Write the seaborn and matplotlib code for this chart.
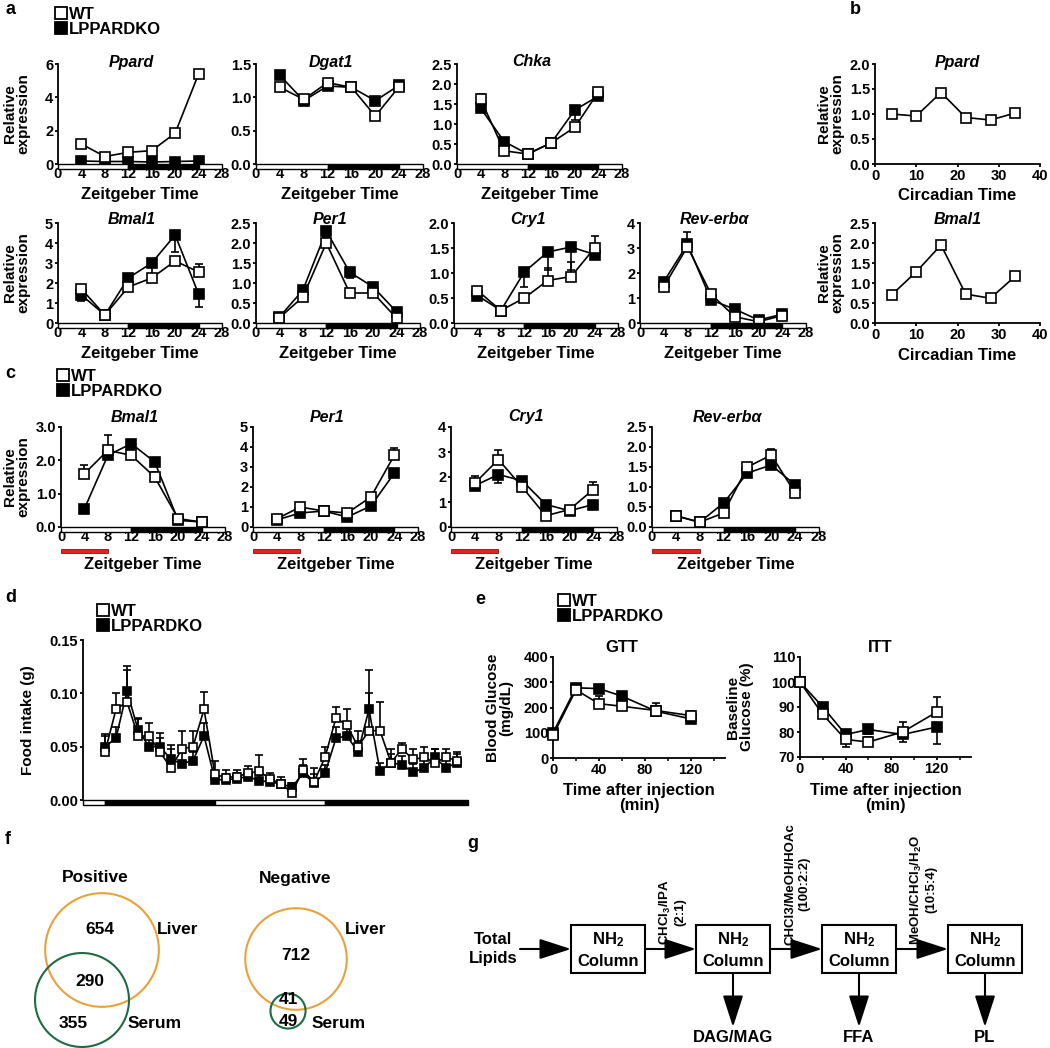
#!/usr/bin/env python3
"""Circadian expression (WT vs LPPARDKO), food intake, GTT/ITT, Venn diagrams and lipid SPE scheme."""

import matplotlib
matplotlib.use("Agg")
import matplotlib.pyplot as plt
import matplotlib.transforms as mtransforms
import numpy as np
import seaborn as sns
from matplotlib.lines import Line2D
from matplotlib.patches import Circle, Rectangle
from matplotlib.ticker import FormatStrFormatter, MultipleLocator

# ---------------- data ----------------
zt = [4, 8, 12, 16, 20, 24]
zt_light_edges = [0, 12, 24, 28]
zt_light_fill = ["white", "black", "white"]

# panel a (WT error bars point up, KO error bars point down)
ppard_wt = [1.2, 0.45, 0.7, 0.8, 1.85, 5.4]
ppard_wt_err = [0.1, 0.05, 0.05, 0.08, 0.1, 0.25]
ppard_ko = [0.18, 0.15, 0.15, 0.12, 0.15, 0.18]
ppard_ko_err = [0.05, 0.03, 0.03, 0.03, 0.03, 0.05]

dgat1_wt = [1.15, 0.97, 1.22, 1.15, 0.72, 1.16]
dgat1_wt_err = [0.05, 0.03, 0.06, 0.03, 0.03, 0.05]
dgat1_ko = [1.33, 0.95, 1.17, 1.15, 0.95, 1.18]
dgat1_ko_err = [0.05, 0.03, 0.04, 0.03, 0.03, 0.05]

chka_wt = [1.62, 0.33, 0.25, 0.53, 0.92, 1.8]
chka_wt_err = [0.12, 0.03, 0.03, 0.04, 0.1, 0.1]
chka_ko = [1.4, 0.56, 0.25, 0.53, 1.35, 1.7]
chka_ko_err = [0.1, 0.05, 0.03, 0.04, 0.25, 0.1]

bmal1_wt = [1.7, 0.4, 1.8, 2.25, 3.1, 2.55]
bmal1_wt_err = [0.1, 0.05, 0.1, 0.1, 0.15, 0.4]
bmal1_ko = [1.4, 0.4, 2.25, 3.0, 4.4, 1.45]
bmal1_ko_err = [0.3, 0.05, 0.1, 0.7, 0.85, 0.65]

per1_wt = [0.13, 0.65, 2.0, 0.75, 0.75, 0.12]
per1_wt_err = [0.02, 0.05, 0.15, 0.05, 0.05, 0.05]
per1_ko = [0.15, 0.82, 2.3, 1.27, 0.9, 0.28]
per1_ko_err = [0.02, 0.05, 0.05, 0.15, 0.05, 0.05]

cry1_wt = [0.65, 0.25, 0.5, 0.85, 0.93, 1.5]
cry1_wt_err = [0.05, 0.02, 0.05, 0.25, 0.3, 0.25]
cry1_ko = [0.55, 0.25, 1.02, 1.42, 1.52, 1.37]
cry1_ko_err = [0.05, 0.02, 0.3, 0.35, 0.45, 0.05]

reverb_wt = [1.45, 3.05, 1.15, 0.25, 0.05, 0.3]
reverb_wt_err = [0.1, 0.6, 0.15, 0.05, 0.03, 0.05]
reverb_ko = [1.65, 3.15, 0.92, 0.55, 0.12, 0.35]
reverb_ko_err = [0.15, 0.2, 0.1, 0.05, 0.03, 0.05]

# panel b (circadian time, WT only)
ct = [4, 10, 16, 22, 28, 34]
ppard_ct = [1.0, 0.96, 1.43, 0.93, 0.88, 1.02]
bmal1_ct = [0.7, 1.28, 1.95, 0.72, 0.62, 1.17]

# panel c (restricted feeding)
c_bmal1_wt = [1.6, 2.3, 2.15, 1.5, 0.25, 0.15]
c_bmal1_wt_err = [0.25, 0.45, 0.1, 0.15, 0.03, 0.03]
c_bmal1_ko = [0.55, 2.15, 2.5, 1.95, 0.2, 0.15]
c_bmal1_ko_err = [0.05, 0.1, 0.05, 0.1, 0.03, 0.03]

c_per1_wt = [0.4, 1.0, 0.8, 0.7, 1.5, 3.6]
c_per1_wt_err = [0.05, 0.1, 0.1, 0.1, 0.15, 0.35]
c_per1_ko = [0.35, 0.7, 0.8, 0.5, 1.05, 2.7]
c_per1_ko_err = [0.05, 0.1, 0.1, 0.1, 0.1, 0.2]

c_cry1_wt = [1.75, 2.7, 1.6, 0.45, 0.7, 1.5]
c_cry1_wt_err = [0.3, 0.4, 0.1, 0.1, 0.1, 0.3]
c_cry1_ko = [1.65, 2.1, 1.85, 0.9, 0.65, 0.9]
c_cry1_ko_err = [0.1, 0.35, 0.1, 0.1, 0.1, 0.1]

c_reverb_wt = [0.28, 0.12, 0.35, 1.5, 1.8, 0.85]
c_reverb_wt_err = [0.03, 0.03, 0.05, 0.05, 0.15, 0.1]
c_reverb_ko = [0.28, 0.12, 0.6, 1.35, 1.55, 1.05]
c_reverb_ko_err = [0.03, 0.03, 0.05, 0.05, 0.1, 0.1]
feeding_window = [0, 8]

# panel d (food intake per bin)
food_bins = list(range(2, 35))
food_light_edges = [0, 2, 12, 22, 35]
food_light_fill = ["white", "black", "white", "black"]
food_wt = [0.045, 0.085, 0.092, 0.060, 0.060, 0.045, 0.030, 0.048, 0.050, 0.085,
           0.024, 0.021, 0.022, 0.025, 0.027, 0.020, 0.015, 0.007, 0.028, 0.017,
           0.040, 0.077, 0.070, 0.050, 0.065, 0.065, 0.035, 0.048, 0.038, 0.040,
           0.035, 0.040, 0.037]
food_wt_err = [0.015, 0.015, 0.030, 0.017, 0.012, 0.018, 0.022, 0.017, 0.015, 0.016,
               0.013, 0.007, 0.006, 0.007, 0.015, 0.005, 0.007, 0.005, 0.010, 0.013,
               0.010, 0.010, 0.015, 0.015, 0.035, 0.027, 0.013, 0.005, 0.010, 0.010,
               0.013, 0.008, 0.008]
food_ko = [0.050, 0.058, 0.102, 0.066, 0.050, 0.050, 0.038, 0.034, 0.037, 0.060,
           0.019, 0.019, 0.020, 0.022, 0.018, 0.017, 0.015, 0.012, 0.025, 0.016,
           0.025, 0.058, 0.060, 0.045, 0.085, 0.027, 0.035, 0.033, 0.026, 0.030,
           0.040, 0.030, 0.035]
food_ko_err = [0.012, 0.010, 0.024, 0.010, 0.008, 0.008, 0.010, 0.010, 0.008, 0.012,
               0.005, 0.005, 0.005, 0.005, 0.005, 0.004, 0.004, 0.004, 0.008, 0.008,
               0.008, 0.010, 0.010, 0.010, 0.037, 0.008, 0.008, 0.008, 0.008, 0.010,
               0.008, 0.008, 0.008]

# panel e
tol_time = [0, 20, 40, 60, 90, 120]
gtt_wt = [90, 270, 215, 205, 188, 168]
gtt_wt_err = [8, 12, 30, 10, 28, 20]
gtt_ko = [100, 278, 275, 245, 185, 155]
gtt_ko_err = [8, 10, 10, 10, 15, 12]
itt_wt = [100, 87, 77, 76, 80, 88]
itt_wt_err = [0, 1.5, 3, 2, 4, 6]
itt_ko = [100, 90, 79, 81, 79, 82]
itt_ko_err = [0, 1.5, 5, 2, 3, 7]

# panel f (feature counts)
pos_liver_only, pos_both, pos_serum_only = 654, 290, 355
neg_liver_only, neg_both, neg_serum_only = 712, 41, 49

# panel g
spe_fractions = ["DAG/MAG", "FFA", "PL"]
spe_solvents = ["CHCl$_3$/IPA\n(2:1)", "CHCl3/MeOH/HOAc\n(100:2:2)",
                "MeOH/CHCl$_3$/H$_2$O\n(10:5:4)"]

# ---------------- layout (pixels, origin top-left) ----------------
W, H = 1050, 1048
LIVER_COLOR = "#E8A23A"
SERUM_COLOR = "#1E6B45"
VENN_K = 1.85
YLAB_SIZE = 11


def box_axes(fig, box):
    l, t, r, b = box
    return fig.add_axes([l / W, 1 - b / H, (r - l) / W, (b - t) / H])


def draw_group(ax, x, y, err, filled, err_down, ms=6.5):
    y = np.asarray(y, float)
    err = np.asarray(err, float)
    zero = np.zeros_like(err)
    yerr = [err, zero] if err_down else [zero, err]
    ax.errorbar(x, y, yerr=yerr, fmt="none", ecolor="black", elinewidth=1.2,
                capsize=3, capthick=1.2, zorder=2, clip_on=False)
    sns.lineplot(x=x, y=y, ax=ax, color="black", linewidth=1.2, marker="s",
                 markersize=ms, markerfacecolor="black" if filled else "white",
                 markeredgecolor="black", markeredgewidth=1.2, errorbar=None, zorder=3)
    for ln in ax.lines:
        ln.set_clip_on(False)


def ld_bar(ax, box, edges, fills, px):
    h = px / (box[3] - box[1])
    tr = mtransforms.blended_transform_factory(ax.transData, ax.transAxes)
    for x0, x1, fc in zip(edges[:-1], edges[1:], fills):
        ax.add_patch(Rectangle((x0, -h), x1 - x0, h, transform=tr, facecolor=fc,
                               edgecolor="black", lw=1.0, clip_on=False, zorder=4))


def set_labels(ax, box, xlabel=None, xlabel_y=None, ylabel=None, ylabel_x=None):
    l, t, r, b = box
    if xlabel:
        ax.set_xlabel(xlabel, va="center", linespacing=1.0)
        ax.xaxis.set_label_coords(0.5, -(xlabel_y - b) / (b - t))
    else:
        ax.set_xlabel("")
    if ylabel:
        ax.set_ylabel(ylabel, va="center", ha="center", linespacing=0.95,
                      fontsize=YLAB_SIZE)
        ax.yaxis.set_label_coords(-(l - ylabel_x) / (r - l), 0.5)
    else:
        ax.set_ylabel("")


def panel_title(ax, box, text, cy, xa=0.45, italic=True, size=11.5):
    l, t, r, b = box
    ax.text(xa, (b - cy) / (b - t), text, transform=ax.transAxes, ha="center",
            va="center", fontsize=size, fontweight="bold",
            fontstyle="italic" if italic else "normal")


def zt_axes(ax, box, ymax, ystep, yfmt):
    ax.set_xlim(0, 28)
    ax.set_ylim(0, ymax)
    ax.set_xticks(range(0, 29, 4))
    ax.set_yticks(np.arange(0, ymax + ystep / 2, ystep))
    ax.yaxis.set_major_formatter(FormatStrFormatter(yfmt))
    sns.despine(ax=ax, bottom=True)
    ax.tick_params(axis="x", length=0, pad=2.5)
    ld_bar(ax, box, zt_light_edges, zt_light_fill, 4.5)


def geno_legend(fig, x, ytop):
    handles = [
        Line2D([], [], marker="s", ls="none", markersize=9, mfc="white", mec="black", mew=1.3),
        Line2D([], [], marker="s", ls="none", markersize=9, mfc="black", mec="black", mew=1.3),
    ]
    fig.legend(handles, ["WT", "LPPARDKO"], loc="upper left",
               bbox_to_anchor=(x / W, 1 - ytop / H), frameon=False, fontsize=12,
               handlelength=0.7, handletextpad=0.15, labelspacing=0.0,
               borderpad=0, borderaxespad=0)


def zt_panel(fig, box, name, wt, wt_err, ko, ko_err, ymax, ystep, yfmt,
             title_y, xlabel_y, ylabel):
    ax = box_axes(fig, box)
    draw_group(ax, zt, ko, ko_err, True, True)
    draw_group(ax, zt, wt, wt_err, False, False)
    zt_axes(ax, box, ymax, ystep, yfmt)
    panel_title(ax, box, name, title_y)
    set_labels(ax, box, "Zeitgeber Time", xlabel_y,
               "Relative\nexpression" if ylabel else None, 17)
    return ax


def main():
    sns.set_style("ticks")
    plt.rcParams.update({
        "font.family": ["Liberation Sans", "DejaVu Sans"],
        "font.weight": "bold",
        "font.size": 11,
        "axes.labelweight": "bold",
        "axes.labelsize": 12,
        "axes.edgecolor": "black",
        "axes.labelcolor": "black",
        "axes.linewidth": 1.3,
        "text.color": "black",
        "xtick.color": "black",
        "ytick.color": "black",
        "xtick.labelsize": 10.5,
        "ytick.labelsize": 10.5,
        "xtick.major.width": 1.3,
        "ytick.major.width": 1.3,
        "xtick.major.size": 2.5,
        "ytick.major.size": 2.5,
        "xtick.major.pad": 1.0,
        "ytick.major.pad": 1.0,
        "xtick.minor.width": 1.1,
        "xtick.minor.size": 2.2,
        "mathtext.fontset": "custom",
        "mathtext.rm": "Liberation Sans:bold",
        "mathtext.it": "Liberation Sans:italic:bold",
        "mathtext.bf": "Liberation Sans:bold",
        "mathtext.default": "rm",
    })

    fig = plt.figure(figsize=(W / 100, H / 100), dpi=100)

    # panel letters
    for letter, (x, y) in {"a": (5, 10), "b": (850, 10), "c": (5, 373), "d": (5, 598),
                           "e": (475, 600), "f": (5, 840), "g": (467, 843)}.items():
        fig.text(x / W, 1 - y / H, letter, fontsize=13, fontweight="bold",
                 ha="left", va="center")

    # ---- a ----
    geno_legend(fig, 55, 7)
    row1 = dict(title_y=62, xlabel_y=194)
    row2 = dict(title_y=219, xlabel_y=353)
    zt_panel(fig, (58, 64, 222, 164), "Ppard", ppard_wt, ppard_wt_err, ppard_ko,
             ppard_ko_err, 6, 2, "%d", ylabel=True, **row1)
    zt_panel(fig, (256, 64, 423, 164), "Dgat1", dgat1_wt, dgat1_wt_err, dgat1_ko,
             dgat1_ko_err, 1.5, 0.5, "%.1f", ylabel=False, **row1)
    zt_panel(fig, (457, 64, 622, 164), "Chka", chka_wt, chka_wt_err, chka_ko,
             chka_ko_err, 2.5, 0.5, "%.1f", ylabel=False, **row1)
    zt_panel(fig, (58, 223, 222, 323), "Bmal1", bmal1_wt, bmal1_wt_err, bmal1_ko,
             bmal1_ko_err, 5, 1, "%d", ylabel=True, **row2)
    zt_panel(fig, (256, 223, 420, 323), "Per1", per1_wt, per1_wt_err, per1_ko,
             per1_ko_err, 2.5, 0.5, "%.1f", ylabel=False, **row2)
    zt_panel(fig, (454, 223, 618, 323), "Cry1", cry1_wt, cry1_wt_err, cry1_ko,
             cry1_ko_err, 2.0, 0.5, "%.1f", ylabel=False, **row2)
    zt_panel(fig, (640, 223, 806, 323), "Rev-erbα", reverb_wt, reverb_wt_err, reverb_ko,
             reverb_ko_err, 4, 1, "%d", ylabel=False, **row2)

    # ---- b ----
    for box, vals, name, ymax, ty, xy in [
        ((875, 64, 1040, 164), ppard_ct, "Ppard", 2.0, 62, 196),
        ((875, 223, 1040, 323), bmal1_ct, "Bmal1", 2.5, 219, 355),
    ]:
        ax = box_axes(fig, box)
        sns.lineplot(x=ct, y=vals, ax=ax, color="black", linewidth=1.2, marker="s",
                     markersize=6.5, markerfacecolor="white", markeredgecolor="black",
                     markeredgewidth=1.2, errorbar=None)
        ax.set_xlim(0, 40)
        ax.set_ylim(0, ymax)
        ax.set_xticks(range(0, 41, 10))
        ax.set_yticks(np.arange(0, ymax + 0.25, 0.5))
        ax.yaxis.set_major_formatter(FormatStrFormatter("%.1f"))
        sns.despine(ax=ax)
        panel_title(ax, box, name, ty, xa=0.5)
        set_labels(ax, box, "Circadian Time", xy, "Relative\nexpression", 831)

    # ---- c ----
    geno_legend(fig, 57, 369)
    c_specs = [
        ((61, 427, 225, 527), "Bmal1", c_bmal1_wt, c_bmal1_wt_err, c_bmal1_ko, c_bmal1_ko_err, 3.0, 1.0, "%.1f"),
        ((253, 427, 418, 527), "Per1", c_per1_wt, c_per1_wt_err, c_per1_ko, c_per1_ko_err, 5, 1, "%d"),
        ((451, 427, 617, 527), "Cry1", c_cry1_wt, c_cry1_wt_err, c_cry1_ko, c_cry1_ko_err, 4, 1, "%d"),
        ((652, 427, 819, 527), "Rev-erbα", c_reverb_wt, c_reverb_wt_err, c_reverb_ko, c_reverb_ko_err, 2.5, 0.5, "%.1f"),
    ]
    for i, (box, name, wt, wte, ko, koe, ymax, ystep, yfmt) in enumerate(c_specs):
        ax = zt_panel(fig, box, name, wt, wte, ko, koe, ymax, ystep, yfmt,
                      title_y=417, xlabel_y=565, ylabel=(i == 0))
        tr = mtransforms.blended_transform_factory(ax.transData, ax.transAxes)
        ax.add_patch(Rectangle((feeding_window[0], -0.26), feeding_window[1] - feeding_window[0],
                               0.04, transform=tr, facecolor="#E3211F", edgecolor="#8B1010",
                               lw=0.6, clip_on=False))

    # ---- d ----
    geno_legend(fig, 97, 604)
    d_box = (83, 640, 468, 800)
    ax = box_axes(fig, d_box)
    draw_group(ax, food_bins, food_ko, food_ko_err, True, False, ms=5.5)
    draw_group(ax, food_bins, food_wt, food_wt_err, False, False, ms=5.5)
    ax.set_xlim(0, 35)
    ax.set_ylim(0, 0.15)
    ax.set_yticks([0, 0.05, 0.10, 0.15])
    ax.yaxis.set_major_formatter(FormatStrFormatter("%.2f"))
    ax.set_xticks([])
    sns.despine(ax=ax, bottom=True)
    ld_bar(ax, d_box, food_light_edges, food_light_fill, 5)
    set_labels(ax, d_box, None, None, "Food intake (g)", 28)

    # ---- e ----
    geno_legend(fig, 558, 594)
    for box, wt, wte, ko, koe, ylim, ystep, title, tx, ylab, ylx in [
        ((553, 657, 725, 758), gtt_wt, gtt_wt_err, gtt_ko, gtt_ko_err, (0, 400), 100,
         "GTT", 622, "Blood Glucose\n(mg/dL)", 500),
        ((800, 657, 971, 757), itt_wt, itt_wt_err, itt_ko, itt_ko_err, (70, 110), 10,
         "ITT", 880, "Baseline\nGlucose (%)", 740),
    ]:
        ax = box_axes(fig, box)
        draw_group(ax, tol_time, ko, koe, True, True)
        draw_group(ax, tol_time, wt, wte, False, False)
        ax.set_xlim(0, 150)
        ax.set_ylim(*ylim)
        ax.set_xticks([0, 40, 80, 120])
        ax.xaxis.set_minor_locator(MultipleLocator(20))
        ax.set_yticks(np.arange(ylim[0], ylim[1] + 1, ystep))
        sns.despine(ax=ax)
        l, t, r, b = box
        panel_title(ax, box, title, 647, xa=(tx - l) / (r - l), italic=False, size=12)
        set_labels(ax, box, "Time after injection\n(min)", 798, ylab, ylx)

    # ---- f ----
    ax = box_axes(fig, (0, 840, 420, 1048))
    ax.set_xlim(0, 420)
    ax.set_ylim(1048, 840)
    ax.axis("off")
    venns = [
        ("Positive", 95, pos_liver_only, pos_both, pos_serum_only,
         (102, 950), (82, 1000), [(100, 929), (90, 982), (73, 1023)], (157, 929), (128, 1023)),
        ("Negative", 295, neg_liver_only, neg_both, neg_serum_only,
         (296, 959), (288, 1011), [(296, 955), (288, 1000), (288, 1021)], (345, 929), (312, 1024)),
    ]
    for title, tx, l_only, both, s_only, lc, sc, num_xy, liver_xy, serum_xy in venns:
        ax.text(tx, 878, title, ha="center", va="center", fontsize=12.5)
        ax.add_patch(Circle(lc, VENN_K * np.sqrt(l_only + both), fill=False,
                            edgecolor=LIVER_COLOR, lw=1.5))
        ax.add_patch(Circle(sc, VENN_K * np.sqrt(s_only + both), fill=False,
                            edgecolor=SERUM_COLOR, lw=1.5))
        for (x, y), n in zip(num_xy, [l_only, both, s_only]):
            ax.text(x, y, str(n), ha="center", va="center", fontsize=12.5)
        ax.text(*liver_xy, "Liver", ha="left", va="center", fontsize=12.5)
        ax.text(*serum_xy, "Serum", ha="left", va="center", fontsize=12.5)

    # ---- g ----
    ax = box_axes(fig, (420, 840, 1050, 1048))
    ax.set_xlim(420, 1050)
    ax.set_ylim(1048, 840)
    ax.axis("off")
    col_left = [571, 696, 822, 948]
    col_w, col_top, col_h = 74, 925, 48
    row_y = col_top + col_h / 2
    arrow_kw = dict(arrowstyle="-|>,head_length=1.3,head_width=0.42", mutation_scale=15,
                    lw=1.5, color="black", shrinkA=0, shrinkB=0)
    for left in col_left:
        ax.add_patch(Rectangle((left, col_top), col_w, col_h, fill=False,
                               edgecolor="black", lw=1.5))
        ax.text(left + col_w / 2, col_top + 15, "NH$_2$", ha="center", va="center", fontsize=12)
        ax.text(left + col_w / 2, col_top + 37, "Column", ha="center", va="center", fontsize=12)
    ax.text(493, row_y, "Total\nLipids", ha="center", va="center", fontsize=12, linespacing=1.25)
    ax.annotate("", xy=(col_left[0], row_y), xytext=(520, row_y), arrowprops=arrow_kw)
    for i, solvent in enumerate(spe_solvents):
        x0 = col_left[i] + col_w
        ax.annotate("", xy=(col_left[i + 1], row_y), xytext=(x0, row_y), arrowprops=arrow_kw)
        ax.text(x0 + 27, row_y - 4, solvent, rotation=90, ha="center", va="bottom",
                multialignment="center", fontsize=9.5, linespacing=1.2)
    for left, frac in zip(col_left[1:], spe_fractions):
        cx = left + col_w / 2
        ax.annotate("", xy=(cx, 1027), xytext=(cx, col_top + col_h), arrowprops=arrow_kw)
        ax.text(cx, 1038, frac, ha="center", va="center", fontsize=12)

    fig.savefig("out.png", dpi=100)
    plt.close(fig)


if __name__ == "__main__":
    main()
